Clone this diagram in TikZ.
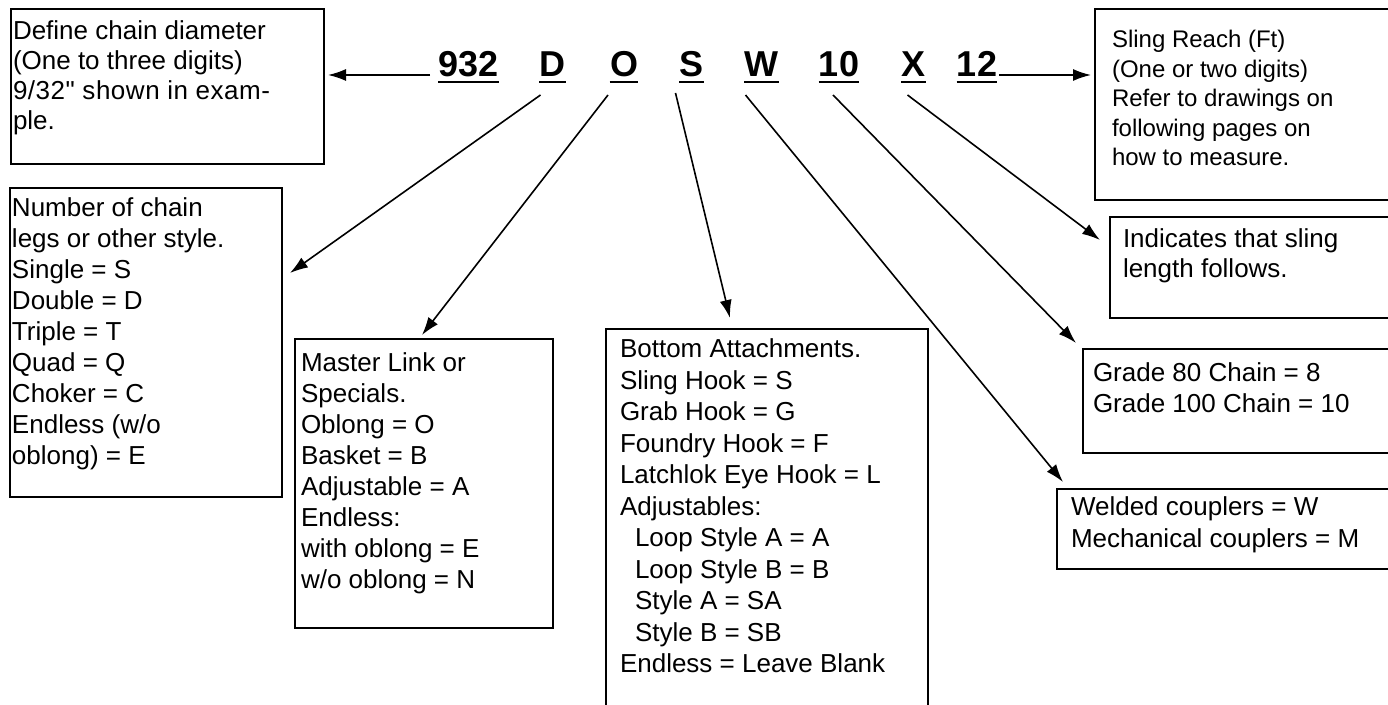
\documentclass[tikz,border=0pt]{standalone}
\usepackage{fontspec}
\setmainfont{Liberation Sans}[Ligatures=TeXOff]
\usetikzlibrary{arrows.meta,calc}

% width, height, left pad, first baseline, line skip, lines
\newcommand{\boxtext}[6]{\parbox[t][#2][t]{#1}{\fontsize{13pt}{#5}\selectfont\raggedright\leftskip=#3\relax\rule{0pt}{#4}#6}}

\begin{document}
\begin{tikzpicture}[x=0.5pt, y=-0.5pt,
    tag/.style={draw, line width=1.2pt, inner sep=0pt, outer sep=0pt, anchor=north west},
    code/.style={inner sep=0pt, anchor=base, font=\fontsize{18pt}{18pt}\selectfont\bfseries},
    uline/.style={line width=1pt},
    arr/.style={line width=0.8pt, -{Latex[length=9pt,width=6pt]}}]
        \useasboundingbox[fill=white] (0,0) rectangle (1388,705);
        % the code
        \node[code] (c932) at (468.5,77) {932};
        \node[code] (cD) at (552.5,77) {D};
        \node[code] (cO) at (624,77) {O};
        \node[code] (cS) at (691.5,77) {S};
        \node[code] (cW) at (761.5,77) {W};
        \node[code] (c10) at (839,77) {10};
        \node[code] (cX) at (913.5,77) {X};
        \node[code] (c12) at (977,77) {12};
        \foreach \c in {c932,cD,cO,cS,cW,c10,cX,c12}
          \draw[uline] ([yshift=-2.5pt]\c.base west) -- ([yshift=-2.5pt]\c.base east);
        % the boxes
        \node[tag] (diam) at (11,9) {\boxtext{156.5pt}{77.5pt}{1pt}{15.5pt}{15pt}{Define chain diameter\\(One to three digits)\\\makebox[128.5pt][s]{\addfontfeature{LetterSpace=2}9/32"\ shown\ in\ exam-}\\ple.}};
        \node[tag] (legs) at (10,188) {\boxtext{136pt}{154.5pt}{1pt}{14.5pt}{15.5pt}{Number of chain\\legs or other style.\\Single = S\\Double = D\\Triple = T\\Quad = Q\\Choker = C\\Endless (w/o\\oblong) = E}};
        \node[tag] (master) at (295,339) {\boxtext{129pt}{144.5pt}{3pt}{16.5pt}{15.5pt}{Master Link or\\Specials.\\Oblong = O\\Basket = B\\Adjustable = A\\Endless:\\with oblong = E\\w/o oblong = N}};
        \node[tag] (attach) at (606,329) {\boxtext{161pt}{195pt}{7pt}{14.5pt}{15.75pt}{Bottom Attachments.\\Sling Hook = S\\Grab Hook = G\\Foundry Hook = F\\Latchlok Eye Hook = L\\Adjustables:\\\hspace*{7.5pt}Loop Style A = A\\\hspace*{7.5pt}Loop Style B = B\\\hspace*{7.5pt}Style A = SA\\\hspace*{7.5pt}Style B = SB\\Endless = Leave Blank}};
        \node[tag] (sling) at (1095,9) {\boxtext{150pt}{95.5pt}{8.5pt}{19.5pt}{14.75pt}{\fontsize{12pt}{14.75pt}\selectfont Sling Reach (Ft)\\(One or two digits)\\Refer to drawings on\\following pages on\\how to measure.}};
        \node[tag] (follows) at (1110,217) {\boxtext{142.5pt}{50.5pt}{6.5pt}{15.5pt}{15pt}{Indicates that sling\\length follows.}};
        \node[tag] (grade) at (1083,349) {\boxtext{156pt}{52pt}{5pt}{16.5pt}{15.5pt}{Grade 80 Chain = 8\\Grade 100 Chain = 10}};
        \node[tag] (couplers) at (1057,489) {\boxtext{169pt}{40pt}{7pt}{13.5pt}{16pt}{Welded couplers = W\\Mechanical couplers = M}};
        % the arrows
        \coordinate (s932) at ($(c932.base west)+(-8,-2)$);
        \coordinate (s12) at ($(c12.base east)+(2,-2)$);
        \draw[arr, shorten >=2pt] (s932) -- (diam.east |- s932);
        \draw[arr, shorten >=2pt] (s12) -- (sling.west |- s12);
        \draw[arr] ($(cD.base)+(-12,18)$) -- ($(legs.north east)+(8,85)$);
        \draw[arr] ($(cO.base)+(-16,18)$) -- ($(master.north west)+(127,-4)$);
        \draw[arr] ($(cS.base)+(-16,16)$) -- ($(attach.north west)+(124,-11)$);
        \draw[arr] ($(cW.base)+(-16,18)$) -- ($(couplers.north west)+(6,-7)$);
        \draw[arr] ($(c10.base)+(-6,18)$) -- ($(grade.north west)+(-7,-6)$);
        \draw[arr] ($(cX.base)+(-6,18)$) -- ($(follows.north west)+(-10,23)$);
\end{tikzpicture}
\end{document}
